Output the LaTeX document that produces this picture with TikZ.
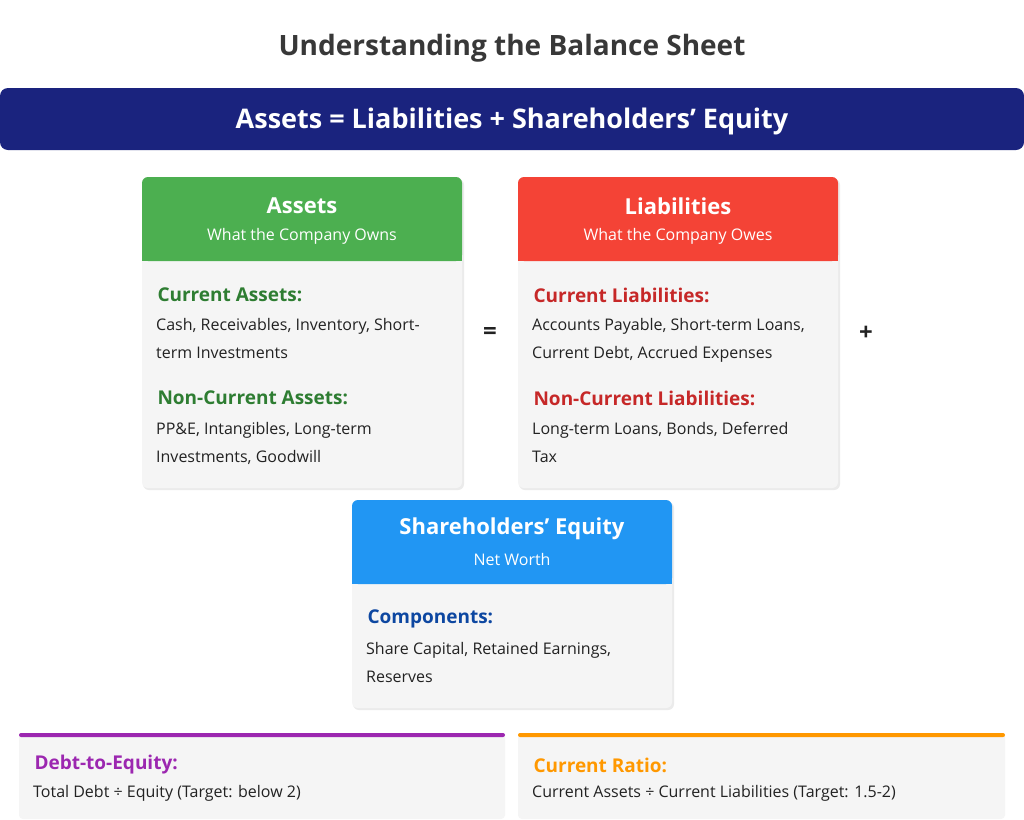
\documentclass[tikz,border=0pt]{standalone}
\usepackage{fontspec}
\setmainfont{Open Sans}
\definecolor{navy}{HTML}{1A237E}
\definecolor{cgreen}{HTML}{4CAF50}
\definecolor{dgreen}{HTML}{2E7D32}
\definecolor{cred}{HTML}{F44336}
\definecolor{dred}{HTML}{C62828}
\definecolor{cblue}{HTML}{2196F3}
\definecolor{dblue}{HTML}{0D47A1}
\definecolor{cpurp}{HTML}{9C27B0}
\definecolor{corange}{HTML}{FF9800}
\definecolor{cardbg}{HTML}{F5F5F5}
\definecolor{txt}{HTML}{222222}
\tikzset{
  hd/.style={font=\fontsize{22}{26}\selectfont\bfseries, text=white},
  sub/.style={font=\fontsize{16}{19}\selectfont, text=white},
  sec/.style={font=\fontsize{19}{23}\selectfont\bfseries, anchor=west},
  bd/.style={font=\fontsize{16}{28}\selectfont, text=txt, anchor=north west, align=left, inner sep=0pt},
}
\begin{document}
\begin{tikzpicture}[x=1pt,y=-1pt]
\fill[white] (0,0) rectangle (1024,819);
\useasboundingbox (0,0) rectangle (1024,819);
\node[font=\fontsize{28}{32}\selectfont\bfseries, text=txt!90] (title) at (512,48) {Understanding the Balance Sheet};
\fill[navy, rounded corners=8pt] (0,88) rectangle (1024,150);
\node[font=\fontsize{27}{32}\selectfont\bfseries, text=white] (eq) at (512,121) {Assets = Liabilities + Shareholders' Equity};
% Assets card
\fill[black!8, rounded corners=6pt] (143,179) rectangle (464,490);
\fill[cardbg, rounded corners=6pt] (142,177) rectangle (462,488);
\fill[cgreen, rounded corners=6pt] (142,177) rectangle (462,261);
\fill[cgreen] (142,240) rectangle (462,261);
\node[hd] (ah) at (302,206) {Assets};
\node[sub] (as) at (302,236) {What the Company Owns};
\node[sec, text=dgreen] (ac) at (154,295) {Current Assets:};
\node[bd] (acb) at (156,318) {Cash, Receivables, Inventory, Short-\\term Investments};
\node[sec, text=dgreen] (an) at (154,398) {Non-Current Assets:};
\node[bd] (anb) at (156,422) {PP\&E, Intangibles, Long-term\\Investments, Goodwill};
% Liabilities
\fill[black!8, rounded corners=6pt] (519,179) rectangle (840,490);
\fill[cardbg, rounded corners=6pt] (518,177) rectangle (838,488);
\fill[cred, rounded corners=6pt] (518,177) rectangle (838,261);
\fill[cred] (518,240) rectangle (838,261);
\node[hd] (lh) at (678,206) {Liabilities};
\node[sub] (ls) at (678,236) {What the Company Owes};
\node[sec, text=dred] (lc) at (530,295) {Current Liabilities:};
\node[bd] (lcb) at (532,318) {Accounts Payable, Short-term Loans,\\Current Debt, Accrued Expenses};
\node[sec, text=dred] (ln) at (530,398) {Non-Current Liabilities:};
\node[bd] (lnb) at (532,422) {Long-term Loans, Bonds, Deferred\\Tax};
\node[font=\fontsize{24}{28}\selectfont\bfseries, text=txt] (eqs) at (490,333) {=};
\node[font=\fontsize{24}{28}\selectfont\bfseries, text=txt] (pl) at (866,333) {+};
% Equity
\fill[black!8, rounded corners=6pt] (353,502) rectangle (674,710);
\fill[cardbg, rounded corners=6pt] (352,500) rectangle (672,708);
\fill[cblue, rounded corners=6pt] (352,500) rectangle (672,584);
\fill[cblue] (352,563) rectangle (672,584);
\node[hd] (eh) at (512,529) {Shareholders' Equity};
\node[sub] (es) at (512,559) {Net Worth};
\node[sec, text=dblue] (ec) at (364,619) {Components:};
\node[bd] (ecb) at (366,642) {Share Capital, Retained Earnings,\\Reserves};
% Ratios
\fill[cardbg, rounded corners=4pt] (19,733) rectangle (505,819);
\fill[cpurp, rounded corners=2pt] (19,733) rectangle (505,737);
\node[sec, text=cpurp] (dh) at (31,765) {Debt-to-Equity:};
\node[bd, anchor=west] (db) at (33,793) {Total Debt ÷ Equity (Target: below 2)};
\fill[cardbg, rounded corners=4pt] (518,733) rectangle (1005,819);
\fill[corange, rounded corners=2pt] (518,733) rectangle (1005,737);
\node[sec, text=corange] (ch) at (530,765) {Current Ratio:};
\node[bd, anchor=west] (cb) at (532,793) {Current Assets ÷ Current Liabilities (Target: 1.5-2)};
\end{tikzpicture}
\end{document}
